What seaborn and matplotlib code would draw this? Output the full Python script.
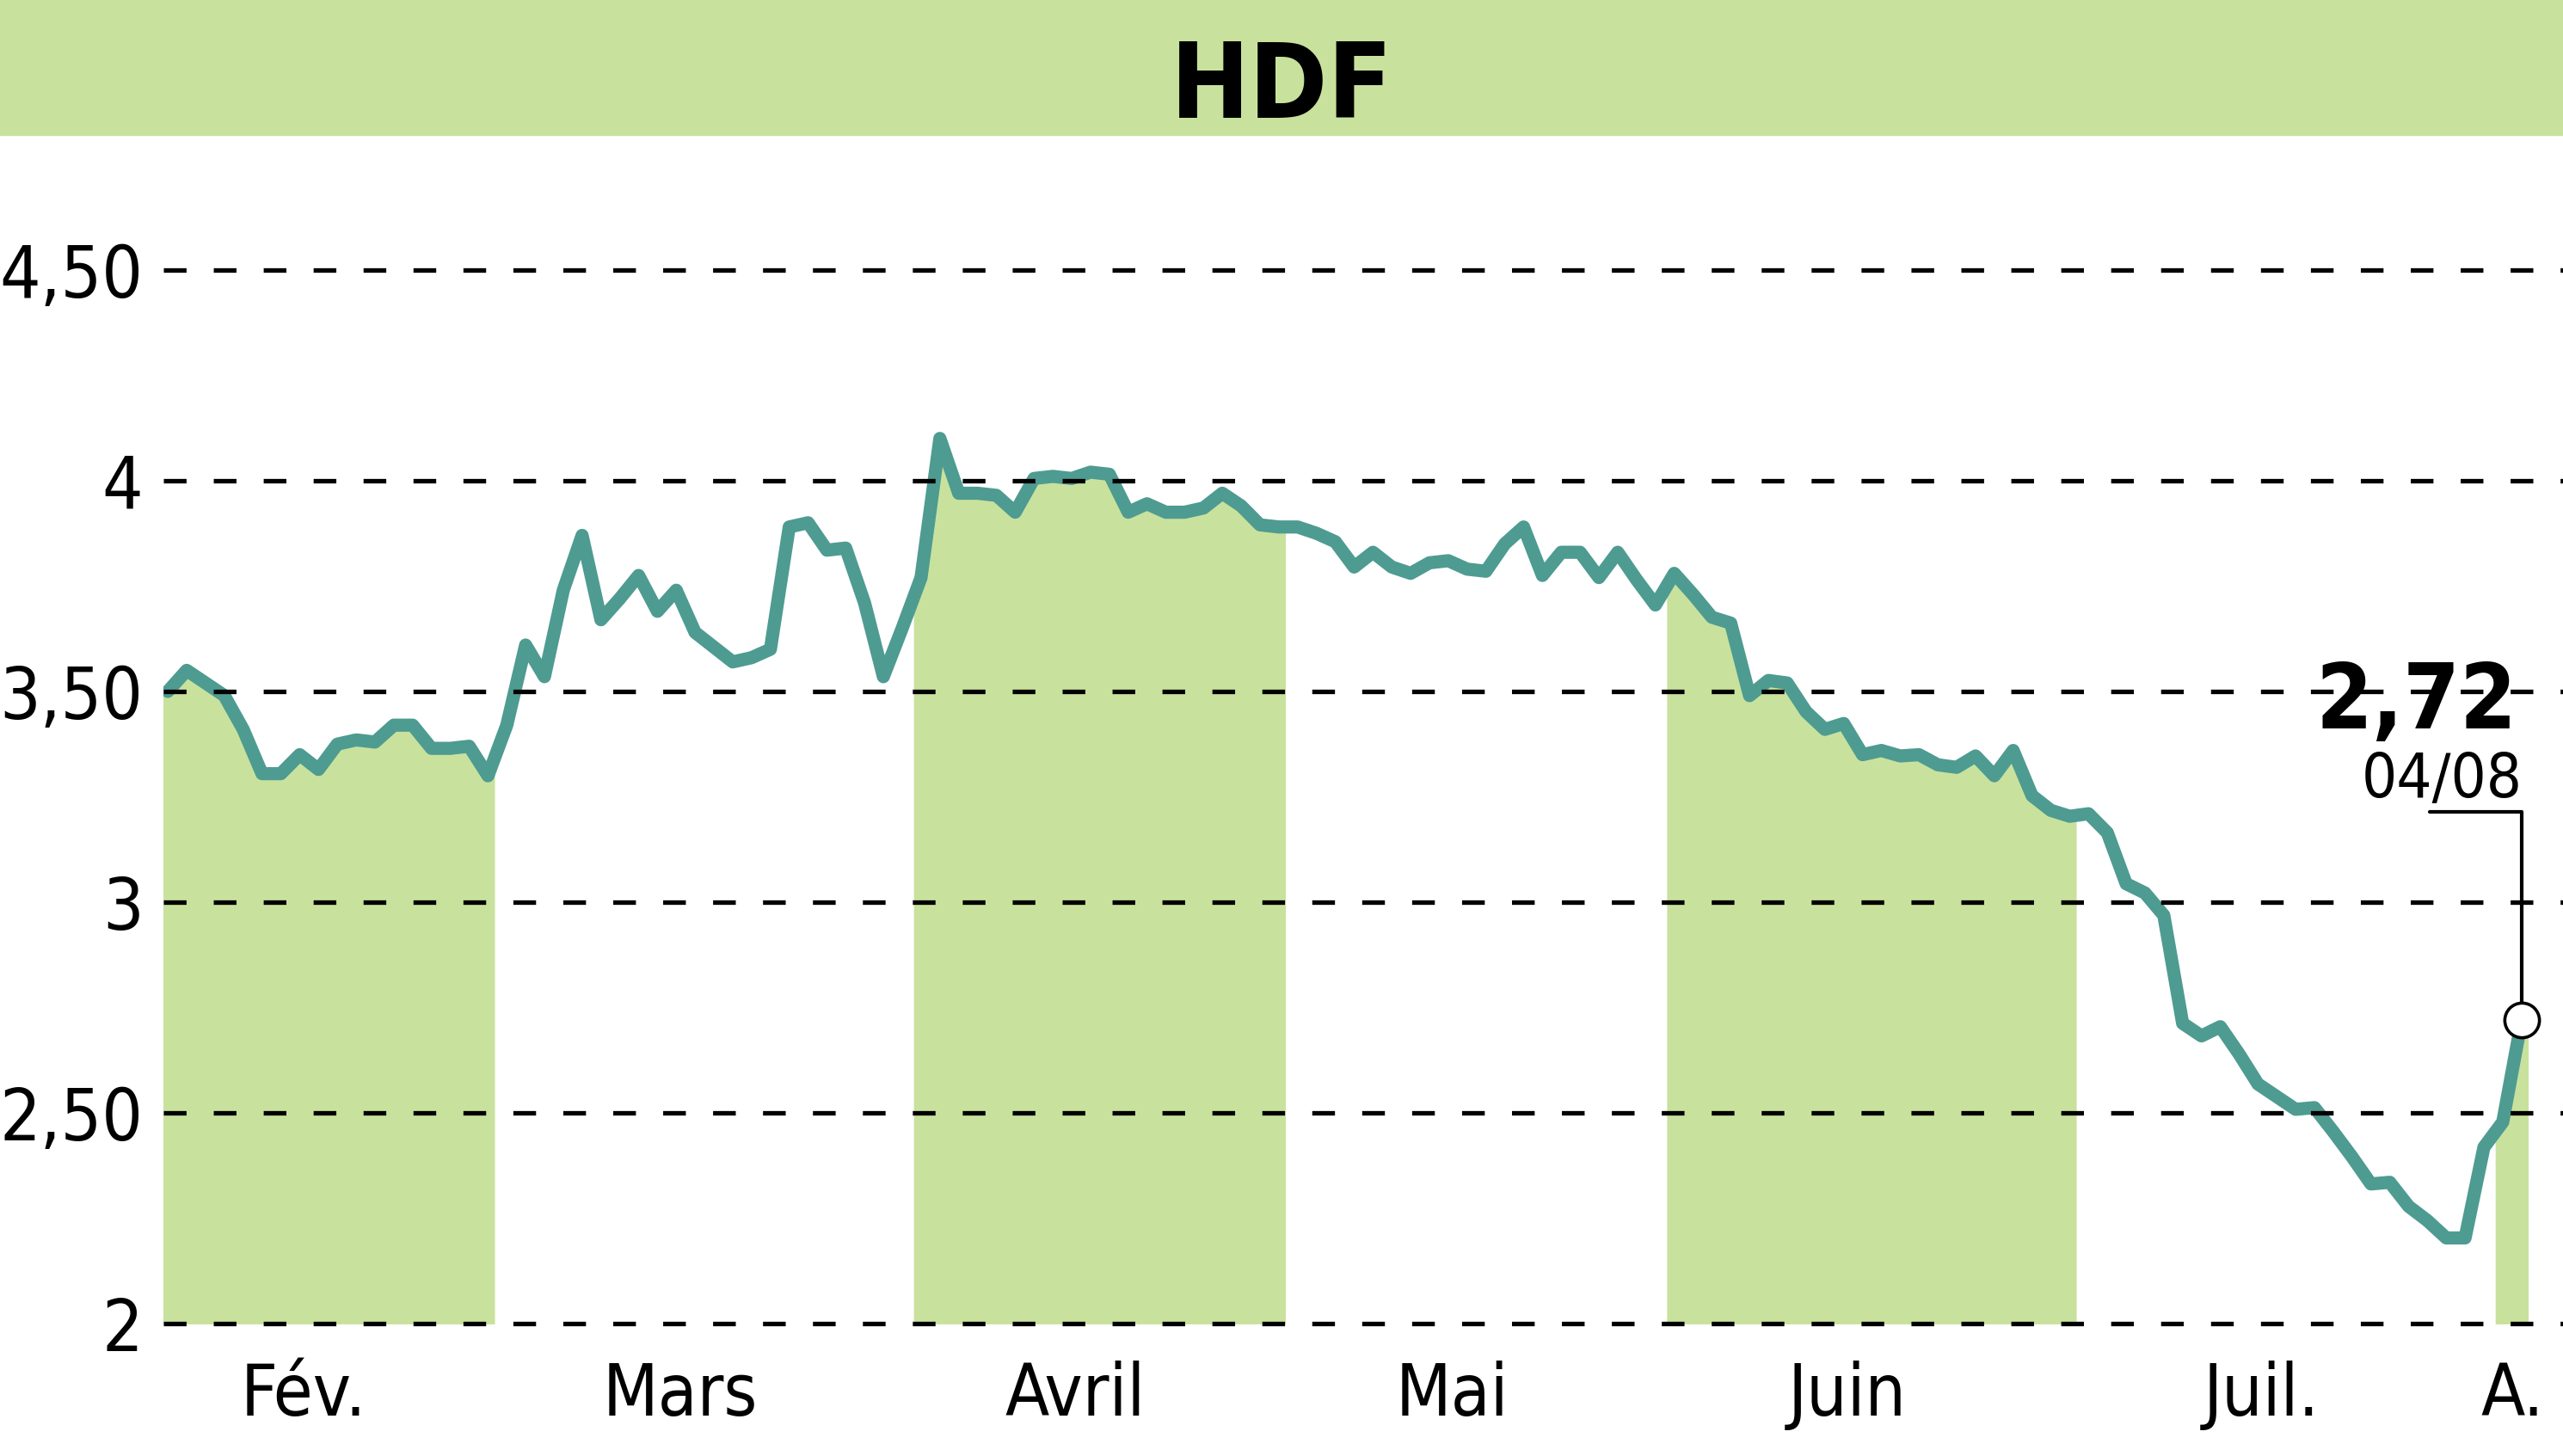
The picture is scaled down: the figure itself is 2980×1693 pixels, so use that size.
import numpy as np
import pandas as pd
import matplotlib
matplotlib.use("Agg")
import matplotlib.pyplot as plt
import seaborn as sns
from matplotlib import font_manager
from matplotlib.patches import Rectangle

# Closing prices, one list per month (trading days)
feb_prices = [3.50, 3.55, 3.52, 3.49, 3.41, 3.305, 3.305, 3.35, 3.315, 3.375, 3.385, 3.38,
              3.42, 3.42, 3.365, 3.365, 3.37, 3.30]
mar_prices = [3.42, 3.61, 3.535, 3.74, 3.87, 3.67, 3.72, 3.775, 3.69, 3.74, 3.64, 3.605,
              3.57, 3.58, 3.60, 3.89, 3.90, 3.835, 3.84, 3.71, 3.535, 3.65]
apr_prices = [3.77, 4.10, 3.97, 3.97, 3.965, 3.925, 4.005, 4.01, 4.005, 4.02, 4.015, 3.925,
              3.945, 3.925, 3.925, 3.935, 3.97, 3.94, 3.895, 3.89]
may_prices = [3.89, 3.875, 3.855, 3.795, 3.83, 3.795, 3.78, 3.805, 3.81, 3.79, 3.785, 3.85,
              3.89, 3.775, 3.83, 3.83, 3.77, 3.83, 3.765, 3.705]
jun_prices = [3.78, 3.73, 3.676, 3.662, 3.49, 3.526, 3.52, 3.452, 3.41, 3.424, 3.35, 3.36,
              3.347, 3.35, 3.326, 3.32, 3.347, 3.30, 3.36, 3.253, 3.218, 3.204]
jul_prices = [3.21, 3.165, 3.044, 3.022, 2.969, 2.713, 2.683, 2.705, 2.64, 2.569, 2.539, 2.509,
              2.513, 2.456, 2.396, 2.332, 2.336, 2.279, 2.245, 2.204, 2.204, 2.419]
aug_prices = [2.479, 2.72]

month_labels = ["Fév.", "Mars", "Avril", "Mai", "Juin", "Juil.", "A."]
last_date = "04/08"
y_ticks = [2, 2.5, 3, 3.5, 4, 4.5]
y_tick_labels = ["2", "2,50", "3", "3,50", "4", "4,50"]

GREEN = "#C8E29D"
TEAL = "#4E9B91"

month_prices = [feb_prices, mar_prices, apr_prices, may_prices, jun_prices, jul_prices, aug_prices]
rows = []
for label, prices in zip(month_labels, month_prices):
    for p in prices:
        rows.append({"month": label, "price": p})
df = pd.DataFrame(rows)
df["idx"] = np.arange(len(df))

sns.set_style("white")
plt.rcParams["font.family"] = ["DejaVu Sans"]
plt.rcParams["font.stretch"] = "condensed"
plt.rcParams["text.color"] = "black"
plt.rcParams["xtick.color"] = "black"
plt.rcParams["ytick.color"] = "black"

# use the condensed cut if it is installed, otherwise shrink the text a bit
found = font_manager.findfont(font_manager.FontProperties(family="DejaVu Sans", stretch="condensed"))
k = 1.0 if "Condensed" in found else 0.88

fig = plt.figure(figsize=(29.8, 16.93), dpi=100)
ax = fig.add_axes([0.0638, 0.0820, 0.9362, 0.7617])

# green area under the curve for every other month
tick_pos = []
for i, label in enumerate(month_labels):
    sub = df[df["month"] == label]
    first, last = sub["idx"].min(), sub["idx"].max()
    if len(sub) > 5:
        tick_pos.append((first + last) / 2 - 1.3)
    else:
        tick_pos.append((first + last) / 2)
    if i % 2 == 0:
        xs = np.concatenate([[first - 0.4], sub["idx"].values, [last + 0.35]])
        ys = np.interp(xs, df["idx"], df["price"])
        ax.fill_between(xs, 2, ys, color=GREEN, linewidth=0, zorder=1)

sns.lineplot(data=df, x="idx", y="price", color=TEAL, linewidth=11, ax=ax, zorder=3)

for y in y_ticks:
    ax.axhline(y, color="black", linewidth=3.8, linestyle=(0, (5, 6)), zorder=4)

ax.set_xlim(-0.23, 127.2)
ax.set_ylim(1.97, 4.6)
ax.set_yticks(y_ticks)
ax.set_yticklabels(y_tick_labels, fontsize=60 * k)
ax.set_xticks(tick_pos)
ax.set_xticklabels(month_labels, fontsize=60 * k)
ax.tick_params(axis="y", length=0, pad=17)
ax.tick_params(axis="x", length=0, pad=20)
ax.set_xlabel("")
ax.set_ylabel("")
for s in ax.spines.values():
    s.set_visible(False)

# last value marker + leader
x_last = df["idx"].iloc[-1]
y_last = df["price"].iloc[-1]
ax.plot([x_last, x_last, x_last - 4.9], [y_last, 3.215, 3.215], color="black",
        linewidth=3, zorder=9, clip_on=False)
ax.plot(x_last, y_last, "o", markersize=29, markerfacecolor="white",
        markeredgecolor="black", markeredgewidth=2.6, zorder=10, clip_on=False)
ax.text(x_last + 0.05, 3.25, last_date, fontsize=52 * k, ha="right", va="baseline", zorder=11)
ax.text(x_last - 0.25, 3.413, f"{y_last:.2f}".replace(".", ","), fontsize=76 * k,
        fontweight="bold", ha="right", va="baseline", zorder=11)

# header band
fig.add_artist(Rectangle((0, 1 - 157 / 1693), 1, 157 / 1693, transform=fig.transFigure,
                         color=GREEN, zorder=0))
fig.text(0.5, 1 - 137 / 1693, "HDF", fontsize=88 * k, fontweight="bold", ha="center", va="baseline")

fig.savefig("out.png", dpi=100)
